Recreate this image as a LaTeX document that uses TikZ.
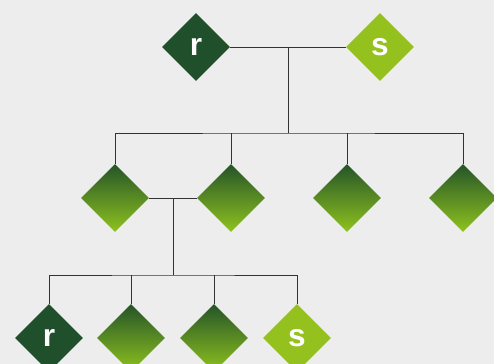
\documentclass[tikz,border=0pt]{standalone}
\usepackage{fontspec}
\usetikzlibrary{shapes.geometric, positioning}
\newfontfamily\gemfont{Liberation Sans}
\definecolor{gmdark}{HTML}{1F4F2B}
\definecolor{gmlight}{HTML}{95C11F}
\definecolor{gmtop}{HTML}{255428}
\definecolor{gmbottom}{HTML}{8EC21E}
\definecolor{gmbg}{HTML}{EDEDED}
\definecolor{gmline}{HTML}{333333}

\begin{document}
\begin{tikzpicture}[
  x=0.03cm, y=-0.03cm,
  gem/.style={diamond, inner sep=0pt, minimum width=2.04cm, minimum height=2.04cm, draw=none},
  solid gem/.style={gem, fill=#1, text=white, font=\gemfont\bfseries\fontsize{27}{27}\selectfont},
  shade gem/.style={gem, top color=gmtop, bottom color=gmbottom},
  link/.style={draw=gmline, line width=0.8pt},
]
\useasboundingbox (0,0) rectangle (494,364);
\fill[gmbg] (0,0) rectangle (494,364);
\clip (0,0) rectangle (494,364);

% Top pair
\node[solid gem=gmdark] (rtop) at (196,47) {r};
\node[solid gem=gmlight] (stop) at (380,47) {s};

% Middle row
\node[shade gem] (m1) at (115,198) {};
\node[shade gem] (m2) at (231,198) {};
\node[shade gem] (m3) at (347,198) {};
\node[shade gem] (m4) at (463,198) {};

% Bottom row
\node[solid gem=gmdark] (rbot) at (49,338) {r};
\node[shade gem] (b2) at (131,338) {};
\node[shade gem] (b3) at (214,338) {};
\node[solid gem=gmlight] (sbot) at (297,338) {s};

% Junctions
\coordinate (j1) at (288,47);
\coordinate (j2) at (288,133);
\coordinate (j3) at (173,198);
\coordinate (j4) at (173,275);

% Upper connectors
\draw[link] (rtop.east) -- (stop.west);
\draw[link] (j1) -- (j2);
\draw[link] (m1.north) |- (j2) -| (m4.north);
\draw[link] (m2.north) -- (m2.north |- j2);
\draw[link] (m3.north) -- (m3.north |- j2);

% Lower connectors
\draw[link] (m1.east) -- (m2.west);
\draw[link] (j3) -- (j4);
\draw[link] (rbot.north) |- (j4) -| (sbot.north);
\draw[link] (b2.north) -- (b2.north |- j4);
\draw[link] (b3.north) -- (b3.north |- j4);

\end{tikzpicture}
\end{document}
